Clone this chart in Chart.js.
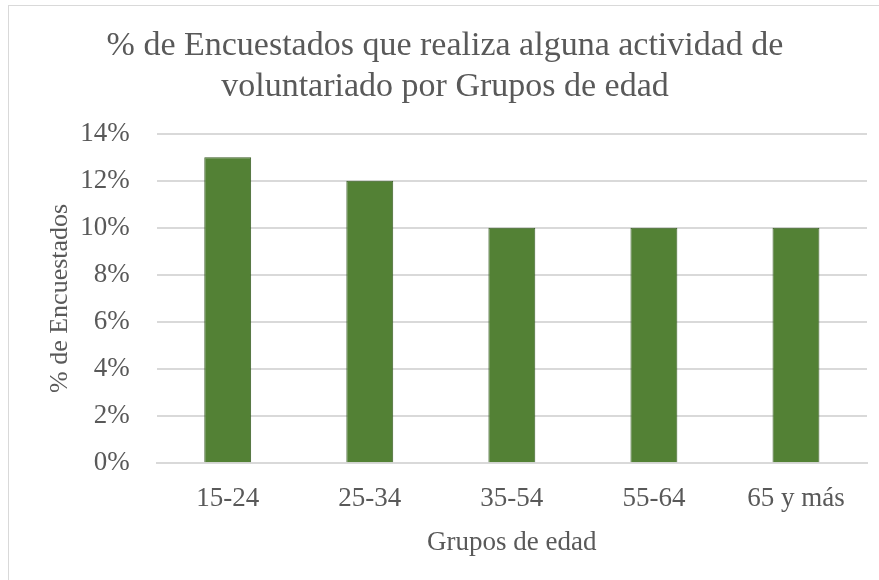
<!DOCTYPE html>
<html>
<head>
<meta charset="utf-8">
<script src="https://cdn.jsdelivr.net/npm/chart.js@4"></script>
<style>
  html, body { margin: 0; padding: 0; background: #fff; overflow: hidden; }
  #wrap { position: relative; width: 879px; height: 580px; }
  #frame {
    position: absolute; left: 8px; top: 5px; width: 900px; height: 600px;
    border-left: 1px solid #d9d9d9; border-top: 1px solid #d9d9d9;
    pointer-events: none;
  }
</style>
</head>
<body>
<div id="wrap">
  <canvas id="chart" width="879" height="580"></canvas>
  <div id="frame"></div>
</div>
<script>
// Data
const categories = ['15-24', '25-34', '35-54', '55-64', '65 y más'];
const shares = [13, 12, 10, 10, 10]; // % de Encuestados
const yTicks = [0, 2, 4, 6, 8, 10, 12, 14];

const serif = "'Liberation Serif', 'Times New Roman', serif";
const textColor = '#595959';

document.addEventListener('DOMContentLoaded', function() {
    const ctx = document.getElementById('chart').getContext('2d');
    new Chart(ctx, {
        type: 'bar',
        data: {
            labels: categories,
            datasets: [{
                label: '% de Encuestados',
                data: shares,
                backgroundColor: '#538135',
                borderColor: '#3a5d25',
                borderWidth: 1,
                barPercentage: 0.33,
                categoryPercentage: 1
            }]
        },
        options: {
            responsive: false,
            animation: false,
            layout: { padding: { left: 23, right: 12, top: 26, bottom: 17 } },
            plugins: {
                legend: { display: false },
                tooltip: { enabled: false },
                title: {
                    display: true,
                    text: ['% de Encuestados que realiza alguna actividad de', 'voluntariado por Grupos de edad'],
                    color: textColor,
                    font: { family: serif, size: 34, weight: 'normal', lineHeight: 1.2 },
                    padding: { top: 0, bottom: 26 }
                }
            },
            scales: {
                x: {
                    grid: { display: false, drawTicks: false },
                    border: { color: '#d9d9d9', width: 2 },
                    ticks: { color: textColor, font: { family: serif, size: 27 }, padding: 20 },
                    title: {
                        display: true, text: 'Grupos de edad', color: textColor,
                        font: { family: serif, size: 27 }, padding: { top: -9, bottom: 4 }
                    }
                },
                y: {
                    min: 0, max: 14,
                    afterBuildTicks: function(axis) {
                        axis.ticks = yTicks.map(v => ({ value: v }));
                    },
                    grid: { color: '#d9d9d9', lineWidth: 2, drawTicks: false },
                    border: { display: false },
                    ticks: {
                        color: textColor, font: { family: serif, size: 27 }, padding: 27,
                        callback: v => v + '%'
                    },
                    title: {
                        display: true, text: '% de Encuestados', color: textColor,
                        font: { family: serif, size: 26 }, padding: { top: 22, bottom: -23 }
                    }
                }
            }
        }
    });
});
</script>
</body>
</html>
